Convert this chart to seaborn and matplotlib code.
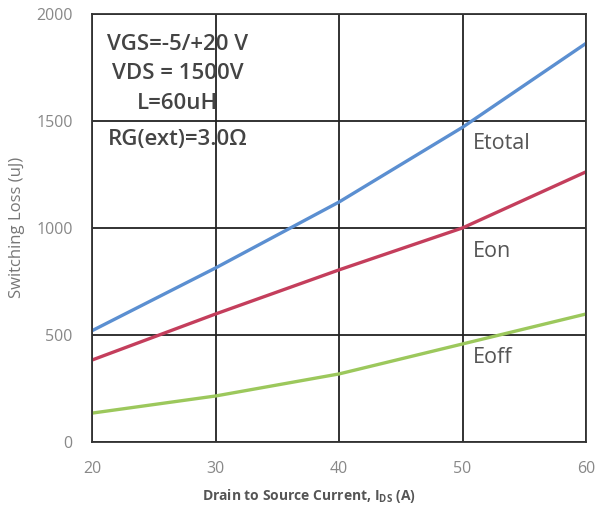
import matplotlib
matplotlib.use("Agg")
import matplotlib.pyplot as plt
import seaborn as sns
import pandas as pd

current = [20, 30, 40, 50, 60]
etotal = [520, 813, 1121, 1470, 1862]
eon = [383, 598, 804, 1000, 1262]
eoff = [135, 215, 318, 458, 598]
series_names = ["Etotal", "Eon", "Eoff"]
colors = {"Etotal": "#5b8fd1", "Eon": "#c43e5c", "Eoff": "#9cc85c"}

df = pd.DataFrame({"I": current * 3,
                   "E": etotal + eon + eoff,
                   "series": [s for s in series_names for _ in current]})

sns.set_style("white")
plt.rcParams['font.family'] = ['Open Sans', 'DejaVu Sans']

fig = plt.figure(figsize=(5.98, 5.11), dpi=100)
ax = fig.add_axes([0.154, 0.135, 0.826, 0.838])

sns.lineplot(data=df, x="I", y="E", hue="series", palette=colors, ax=ax,
             linewidth=2.4, legend=False)

ax.set_xlim(20, 60)
ax.set_ylim(0, 2000)
ax.set_xticks([20, 30, 40, 50, 60])
ax.set_yticks([0, 500, 1000, 1500, 2000])
ax.grid(True, color="#222222", linewidth=1.3)
ax.set_axisbelow(True)
for sp in ax.spines.values():
    sp.set_color("#333333")
    sp.set_linewidth(1.3)
ax.tick_params(axis="x", length=0, labelsize=11.5, colors="#888888", pad=14)
ax.tick_params(axis="y", length=0, labelsize=11.5, colors="#888888", pad=14)
ax.set_xlabel("Drain to Source Current, I$_{\\mathregular{DS}}$ (A)", fontsize=10,
              color="#555555", fontweight="bold")
ax.xaxis.set_label_coords(0.44, -0.105)
ax.set_ylabel("Switching Loss (uJ)", fontsize=12, color="#777777")
ax.yaxis.set_label_coords(-0.135, 0.5)

txt_kw = dict(fontsize=16, color="#444444", fontweight="semibold", ha="center", va="center")
ax.text(26.95, 1855, "VGS=-5/+20 V", **txt_kw)
ax.text(26.95, 1720, "VDS = 1500V", **txt_kw)
ax.text(26.95, 1579, "L=60uH", **txt_kw)
ax.text(26.95, 1411, "RG(ext)=3.0Ω", **txt_kw)

lab_kw = dict(fontsize=15.5, color="#555555", ha="left", va="center")
ax.text(50.8, 1395, "Etotal", **lab_kw)
ax.text(50.8, 888, "Eon", **lab_kw)
ax.text(50.8, 397, "Eoff", **lab_kw)

fig.savefig("out.png", dpi=100)
